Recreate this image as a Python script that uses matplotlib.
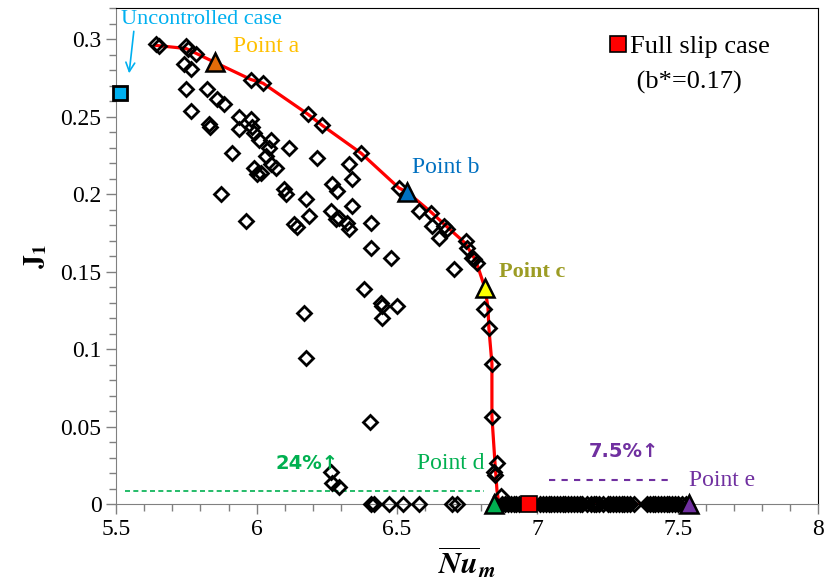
import matplotlib
matplotlib.use("Agg")
import matplotlib.pyplot as plt
from matplotlib.lines import Line2D
from matplotlib.ticker import MultipleLocator, FuncFormatter

plt.rcParams['font.family'] = ['Liberation Serif', 'DejaVu Serif']
plt.rcParams['mathtext.fontset'] = 'stix'

# all evaluated designs (open diamonds)
design_x = [5.642, 5.653, 5.749, 5.756, 5.785, 5.742, 5.767,
            5.749, 5.824, 5.859, 5.884, 5.767, 5.831, 5.835,
            5.938, 5.980, 5.938, 5.984, 5.991, 6.009, 6.052, 6.044, 6.116,
            6.034, 6.052, 6.069, 5.913, 5.991, 6.002, 6.215, 6.098, 6.105,
            6.176, 5.874, 5.963, 6.187, 6.133, 6.144, 6.269, 6.286, 6.265,
            6.283, 6.016, 6.329, 6.340, 6.340, 6.294, 6.322, 6.407, 6.329,
            6.407, 6.479, 6.383, 6.443, 6.447, 6.500, 6.447, 6.169, 6.176,
            6.404, 6.265, 6.269, 6.294,
            5.980, 6.023, 6.183, 6.233, 6.372, 6.507, 6.578, 6.621, 6.625,
            6.667, 6.649, 6.678, 6.746, 6.749, 6.774, 6.703, 6.767, 6.785,
            6.810, 6.827, 6.838, 6.838, 6.856, 6.845, 6.849, 6.870,
            6.407, 6.418, 6.470, 6.520, 6.578, 6.696, 6.713,
            6.874, 6.885, 6.895, 6.905, 6.915, 6.925, 6.935, 7.010, 7.020,
            7.030, 7.040, 7.050, 7.060, 7.070, 7.080, 7.090, 7.100, 7.110,
            7.120, 7.130, 7.140, 7.150, 7.160, 7.175, 7.190, 7.200, 7.210,
            7.220, 7.235, 7.250, 7.260, 7.270, 7.280, 7.290, 7.300, 7.310,
            7.320, 7.330, 7.345, 7.390, 7.400, 7.410, 7.420, 7.430, 7.440,
            7.450, 7.460, 7.470, 7.480, 7.490, 7.500, 7.515, 7.530]
design_y = [0.2967, 0.2954, 0.2954, 0.2934, 0.2902, 0.2838, 0.2806,
            0.2677, 0.2677, 0.2613, 0.2580, 0.2535, 0.2452, 0.2432,
            0.2497, 0.2484, 0.2419, 0.2432, 0.2394, 0.2349, 0.2349, 0.2297, 0.2297,
            0.2246, 0.2194, 0.2169, 0.2265, 0.2169, 0.2130, 0.2233, 0.2033, 0.2001,
            0.1969, 0.2001, 0.1828, 0.1860, 0.1808, 0.1789, 0.2066, 0.2021, 0.1892,
            0.1840, 0.2136, 0.2194, 0.2098, 0.1924, 0.1847, 0.1815, 0.1815, 0.1776,
            0.1654, 0.1589, 0.1390, 0.1300, 0.1281, 0.1281, 0.1203, 0.1236, 0.0946,
            0.0528, 0.0206, 0.0135, 0.0109,
            0.2740, 0.2716, 0.2516, 0.2445, 0.2265, 0.2040, 0.1892, 0.1879, 0.1795,
            0.1795, 0.1718, 0.1776, 0.1699, 0.1654, 0.1583, 0.1519, 0.1589, 0.1557,
            0.1261, 0.1139, 0.0907, 0.0566, 0.0264, 0.0206, 0.0187, 0.0050,
            0.0, 0.0, 0.0, 0.0, 0.0, 0.0, 0.0,
            0.0, 0.0, 0.0, 0.0, 0.0, 0.0, 0.0, 0.0, 0.0,
            0.0, 0.0, 0.0, 0.0, 0.0, 0.0, 0.0, 0.0, 0.0,
            0.0, 0.0, 0.0, 0.0, 0.0, 0.0, 0.0, 0.0, 0.0,
            0.0, 0.0, 0.0, 0.0, 0.0, 0.0, 0.0, 0.0, 0.0,
            0.0, 0.0, 0.0, 0.0, 0.0, 0.0, 0.0, 0.0, 0.0,
            0.0, 0.0, 0.0, 0.0, 0.0, 0.0, 0.0, 0.0]

# Pareto front (red curve)
front_x = [5.642, 5.749, 5.852, 5.980, 6.023, 6.183, 6.233, 6.372, 6.507,
           6.536, 6.621, 6.678, 6.742, 6.781, 6.813, 6.824, 6.827, 6.838,
           6.838, 6.849, 6.856, 6.863, 7.539]
front_y = [0.2960, 0.2940, 0.2850, 0.2740, 0.2716, 0.2516, 0.2445, 0.2265, 0.2040,
           0.2014, 0.1885, 0.1790, 0.1686, 0.1570, 0.1396, 0.1268, 0.1139, 0.0907,
           0.0566, 0.0264, 0.0090, 0.0, 0.0]

# selected points a-e
sel_names = ['a', 'b', 'c', 'd', 'e']
sel_x = [5.852, 6.536, 6.813, 6.845, 7.539]
sel_y = [0.285, 0.2014, 0.1396, 0.0, 0.0]
sel_colors = ['#E36C09', '#0070C0', '#FFFF00', '#00B050', '#7030A0']

uncontrolled_x, uncontrolled_y = 5.514, 0.265
fullslip_x, fullslip_y = 6.97, 0.0

fig = plt.figure(figsize=(8.24, 5.87), dpi=100)
ax = fig.add_axes([0.141, 0.141, 0.852, 0.845])

ax.plot(front_x, front_y, color='red', lw=2.3, zorder=2)
ax.plot(design_x, design_y, linestyle='none', marker='D', ms=7,
        mfc='none', mec='black', mew=2, zorder=3, clip_on=False)
for x, y, c in zip(sel_x, sel_y, sel_colors):
    ax.plot(x, y, marker='^', ms=13, mfc=c, mec='black', mew=1.8,
            linestyle='none', zorder=5, clip_on=False)
ax.plot(uncontrolled_x, uncontrolled_y, marker='s', ms=10, mfc='#00B0F0',
        mec='black', mew=2, zorder=5, clip_on=False)
ax.plot(fullslip_x, fullslip_y, marker='s', ms=11, mfc='red',
        mec='black', mew=1.2, zorder=5, clip_on=False)

# improvement guides
ax.plot([5.53, 6.81], [0.0084, 0.0084], color='#00B050', lw=1.2,
        ls=(0, (3, 2)), zorder=1)
ax.plot([7.04, 7.475], [0.0155, 0.0155], color='#7030A0', lw=1.5,
        ls=(0, (3, 3)), zorder=1)

ax.annotate('Uncontrolled case', xy=(5.546, 0.278), xytext=(5.518, 0.313),
            color='#00B0F0', fontsize=16, va='center', ha='left',
            arrowprops=dict(arrowstyle='->', color='#00B0F0', lw=1.2,
                            shrinkA=0, shrinkB=0, relpos=(0.08, 0.0)))
ax.text(5.916, 0.295, 'Point a', color='#FFC000', fontsize=17, va='center')
ax.text(6.553, 0.2175, 'Point b', color='#0070C0', fontsize=17, va='center')
ax.text(6.863, 0.150, 'Point c', color='#9C9C24', fontsize=16,
        fontweight='bold', va='center')
ax.text(6.571, 0.0264, 'Point d', color='#00B050', fontsize=17, va='center')
ax.text(7.539, 0.0155, 'Point e', color='#7030A0', fontsize=17, va='center')
ax.text(6.066, 0.0264, '24%↑', color='#00B050', fontsize=14, fontweight='bold',
        va='center', family=['DejaVu Sans'])
ax.text(7.183, 0.034, '7.5%↑', color='#7030A0', fontsize=14, fontweight='bold',
        va='center', family=['DejaVu Sans'])

handles = [Line2D([], [], marker='s', ms=11, mfc='red', mec='black', mew=1.2,
                  linestyle='none'),
           Line2D([], [], linestyle='none')]
ax.legend(handles, ['Full slip case', ' (b*=0.17)'], loc='upper right',
          frameon=False, fontsize=19, handlelength=0.6, handletextpad=0.15,
          labelspacing=0.45, bbox_to_anchor=(0.965, 0.995))

ax.set_xlim(5.5, 8)
ax.set_ylim(0, 0.32)
ax.xaxis.set_major_locator(MultipleLocator(0.5))
ax.xaxis.set_minor_locator(MultipleLocator(0.1))
ax.yaxis.set_major_locator(MultipleLocator(0.05))
ax.yaxis.set_minor_locator(MultipleLocator(0.01))
fmt = FuncFormatter(lambda v, p: '{:g}'.format(round(v, 3)))
ax.xaxis.set_major_formatter(fmt)
ax.yaxis.set_major_formatter(fmt)
ax.tick_params(which='both', direction='out', color='#808080', labelsize=17,
               top=False, right=False)
ax.tick_params(which='major', length=7, width=1)
ax.tick_params(which='minor', length=5, width=1)
ax.spines['left'].set_color('#808080')
ax.spines['bottom'].set_color('#808080')

ax.set_xlabel(r'$\overline{\mathbfit{Nu}}_{\mathbfit{m}}$', fontsize=22, labelpad=4)
ax.set_ylabel(r'$\mathbf{J_1}$', fontsize=20, labelpad=8)

fig.savefig('out.png', dpi=100)
